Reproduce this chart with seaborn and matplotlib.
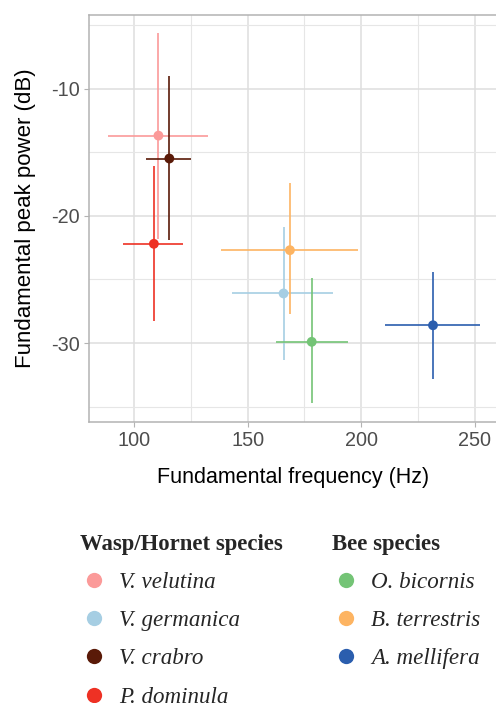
import numpy as np
import pandas as pd
import matplotlib
matplotlib.use("Agg")
import matplotlib.pyplot as plt
import seaborn as sns
from matplotlib.lines import Line2D
from matplotlib.ticker import MultipleLocator
from matplotlib.font_manager import FontProperties

species = ["V. velutina", "V. germanica", "V. crabro", "P. dominula",
           "O. bicornis", "B. terrestris", "A. mellifera"]
group = ["Wasp/Hornet"] * 4 + ["Bee"] * 3
freq = [110.7, 165.8, 115.5, 108.7, 178.2, 168.6, 231.6]
freq_lo = [88.3, 143.3, 105.4, 95.3, 162.3, 138.1, 210.3]
freq_hi = [132.7, 187.7, 124.9, 121.6, 194.2, 198.5, 252.1]
power = [-13.7, -26.1, -15.5, -22.2, -29.9, -22.7, -28.6]
power_lo = [-21.8, -31.3, -21.9, -28.25, -34.7, -27.75, -32.8]
power_hi = [-5.65, -20.9, -9.0, -16.05, -24.9, -17.4, -24.45]
colors = ["#FB9A99", "#A6CEE3", "#5A1A08", "#EE3124",
          "#74C476", "#FDB462", "#2B5EAE"]

df = pd.DataFrame({"species": species, "group": group, "freq": freq,
                   "freq_lo": freq_lo, "freq_hi": freq_hi, "power": power,
                   "power_lo": power_lo, "power_hi": power_hi})
palette = dict(zip(species, colors))

sns.set_theme(style="white")
plt.rcParams["font.family"] = ["Liberation Sans", "DejaVu Sans"]
plt.rcParams["axes.unicode_minus"] = False

fig = plt.figure(figsize=(4.96, 7.03), dpi=100)
ax = fig.add_axes([88.7 / 496, (703 - 422) / 703, 1.003 - 88.7 / 496, (422 - 14.7) / 703])

for _, r in df.iterrows():
    c = palette[r.species]
    ax.errorbar(r.freq, r.power,
                xerr=[[r.freq - r.freq_lo], [r.freq_hi - r.freq]],
                yerr=[[r.power - r.power_lo], [r.power_hi - r.power]],
                fmt="none", ecolor=c, elinewidth=1.2, capsize=0, zorder=2)

sns.scatterplot(data=df, x="freq", y="power", hue="species", palette=palette,
                s=50, edgecolor="none", linewidth=0, legend=False, ax=ax, zorder=3)

ax.set_xlim(80, 260)
ax.set_ylim(-36.2, -4.2)
ax.xaxis.set_major_locator(MultipleLocator(50))
ax.xaxis.set_minor_locator(MultipleLocator(25))
ax.yaxis.set_major_locator(MultipleLocator(10))
ax.yaxis.set_minor_locator(MultipleLocator(5))
ax.grid(which="major", color="#DEDEDE", linewidth=1.1)
ax.grid(which="minor", color="#E6E6E6", linewidth=0.8)
ax.set_axisbelow(True)
for s in ax.spines.values():
    s.set_color("#B3B3B3")
    s.set_linewidth(1.1)
ax.spines["right"].set_visible(False)
ax.tick_params(which="major", length=3.5, width=0.8, color="#B3B3B3",
               labelsize=14.3, labelcolor="#4D4D4D", pad=3, bottom=True, left=True)
ax.tick_params(which="minor", length=0)
ax.set_xlabel("Fundamental frequency (Hz)", fontsize=15.5, color="black", labelpad=12)
ax.set_ylabel("Fundamental peak power (dB)", fontsize=16, color="black", labelpad=11)

title_fp = FontProperties(family="Liberation Serif", weight="bold", size=16.4)
item_fp = FontProperties(family="Liberation Serif", style="italic", size=16.6)

def make_legend(sub, x0):
    handles = [Line2D([], [], marker="o", ls="", color=palette[s], markersize=11,
                      markeredgewidth=0) for s in sub.species]
    leg = fig.legend(handles, list(sub.species), title=f"{sub.group.iloc[0]} species",
                     loc="upper left", bbox_to_anchor=(x0, 0.2407), frameon=False,
                     prop=item_fp, title_fontproperties=title_fp, alignment="left",
                     labelspacing=0.74, handlelength=1.25, handletextpad=0.45,
                     borderpad=0, borderaxespad=0)
    return leg

make_legend(df[df.group == "Wasp/Hornet"], 80 / 496)
make_legend(df[df.group == "Bee"], 332 / 496)

fig.savefig("out.png", dpi=100, facecolor="white")
